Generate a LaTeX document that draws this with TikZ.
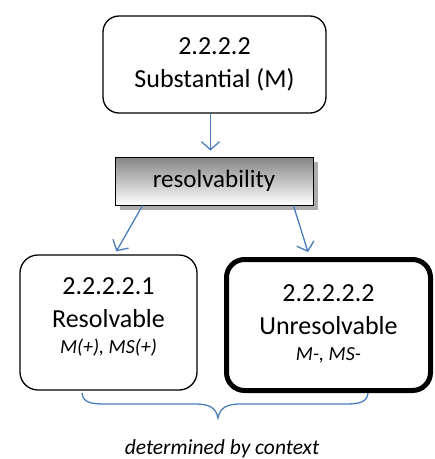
\documentclass[tikz,border=0pt]{standalone}
\usepackage{fontspec}
\setmainfont{Carlito}
\usetikzlibrary{arrows.meta,shadows,calc}
\definecolor{linkblue}{HTML}{4A7EBB}
\begin{document}
\begin{tikzpicture}[x=1pt,y=-1pt,
  box/.style={draw=black,line width=1.3pt,rounded corners=16pt},
  boxtext/.style={align=center,font=\fontsize{26}{30}\selectfont},
  link/.style={draw=linkblue,line width=1.3pt,-{Straight Barb[length=8pt,width=18pt,line width=1.3pt]}}]
\useasboundingbox (0,0) rectangle (435,459);
% top category
\node[box,boxtext,minimum width=223pt,minimum height=97pt] (top) at (214.5,64.5)
  {2.2.2.2\\[3pt]Substantial (M)};
% criterion box with shaded fill and drop shadow
\node[draw=black,line width=0.8pt,top color=black!48,bottom color=white,
  minimum width=198pt,minimum height=48pt,font=\fontsize{25}{30}\selectfont,
  drop shadow={shadow xshift=5pt,shadow yshift=-5pt,fill=gray!65,opacity=1}]
  (res) at (214,181) {resolvability};
% sub categories: outlines
\node[box,minimum width=177pt,minimum height=135pt,rounded corners=18pt] (left) at (108.5,322.5) {};
\node[box,line width=5pt,minimum width=204pt,minimum height=131pt,rounded corners=18pt] (right) at (328.5,325) {};
% sub categories: texts
\node[boxtext] (lefttext) at (108.5,316.5)
  {2.2.2.2.1\\[3pt]Resolvable\\[-4pt]{\fontsize{20}{24}\selectfont\itshape M(+), MS(+)}};
\node[boxtext] (righttext) at (328.5,324)
  {2.2.2.2.2\\[3pt]Unresolvable\\[-4pt]{\fontsize{20}{24}\selectfont\itshape M-, MS-}};
% connectors
\draw[link,shorten >=6pt] ([xshift=-4pt]top.south) -- ([xshift=-4pt]top.south |- res.north);
\draw[link] ([xshift=28pt]res.south west) -- ([xshift=97pt,yshift=3pt]left.north west);
\draw[link] ([xshift=-20pt]res.south east) -- ([xshift=84pt,yshift=5pt]right.north west);
% brace below both sub categories
\coordinate (bl) at (82,393);
\coordinate (br) at (368,393);
\coordinate (bt) at (218,418);
\draw[linkblue,line width=1.3pt]
  (bl) .. controls (83,403) and (92,404) .. (105,404) -- (195,404)
       .. controls (210,404) and (216,408) .. (bt)
       .. controls (220,408) and (226,404) .. (241,404) -- (345,404)
       .. controls (358,404) and (367,403) .. (br);
\node[font=\fontsize{21.5}{25}\selectfont\itshape] (ctx) at (222,449) {determined by context};
\end{tikzpicture}
\end{document}
